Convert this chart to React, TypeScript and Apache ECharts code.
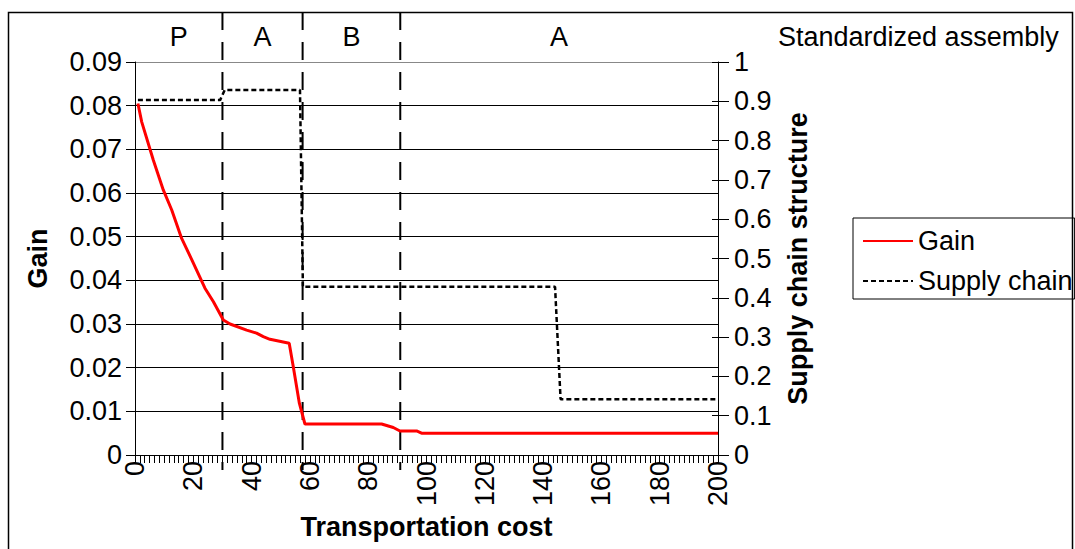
import React, { useEffect, useRef } from "react";
import * as echarts from "echarts";

const gainX = [1, 2.3, 6.3, 9.7, 12.6, 16, 19.5, 24, 26.9, 30.3, 32.6, 38.3, 41.7, 44, 46.3, 52.9, 54.3, 56.4, 58.3, 84.6, 88.6, 90.9, 96.6, 98.3, 200];
const gainY = [0.0805, 0.0763, 0.0675, 0.0607, 0.0561, 0.0496, 0.0447, 0.0382, 0.0351, 0.0309, 0.03, 0.0286, 0.0279, 0.0271, 0.0265, 0.0256, 0.0202, 0.0118, 0.0071, 0.0071, 0.0063, 0.0055, 0.0055, 0.005, 0.005];

const supplyX = [1, 29.2, 30.8, 56.6, 57.6, 144.1, 146, 200];
const supplyY = [0.903, 0.903, 0.929, 0.929, 0.428, 0.428, 0.142, 0.142];

const regionBounds = [0, 30, 57.5, 91, 200];
const regionLabels = ["P", "A", "B", "A"];

const FONT = "Liberation Sans";
const FS = 27;

export default function App() {
  const ref = useRef<HTMLDivElement>(null);
  useEffect(() => {
    if (!ref.current) return;
    const chart = echarts.init(ref.current, null, { renderer: "svg" });
    const regions = regionLabels.map((lab, i) => [regionBounds[i], regionBounds[i + 1], i]);
    const option: any = {
      animation: false,
      backgroundColor: "#fff",
      textStyle: { fontFamily: FONT, color: "#000" },
      grid: { left: 135, right: 357, top: 62, bottom: 94, containLabel: false },
      legend: {
        data: ["Gain", "Supply chain"],
        orient: "vertical",
        left: 853,
        top: 218,
        itemWidth: 50,
        itemHeight: 14,
        itemGap: 10,
        padding: [8, 2, 3, 9],
        borderColor: "#000",
        borderWidth: 1,
        borderRadius: 0,
        itemStyle: { opacity: 0 },
        textStyle: { fontFamily: FONT, fontSize: FS, lineHeight: 30, color: "#000" },
      },
      graphic: [
        {
          type: "rect",
          shape: { x: 8.5, y: 12.5, width: 1064, height: 600 },
          style: { fill: "none", stroke: "#000", lineWidth: 1.5 },
          silent: true,
        },
        {
          type: "text",
          x: 778,
          y: 37,
          style: { text: "Standardized assembly", fontFamily: FONT, fontSize: FS, fill: "#000", verticalAlign: "middle", align: "left" },
        },
      ],
      xAxis: {
        type: "value",
        min: 0,
        max: 200,
        interval: 20,
        name: "Transportation cost",
        nameLocation: "middle",
        nameGap: 55,
        nameTextStyle: { fontFamily: FONT, fontSize: FS, fontWeight: "bold", color: "#000" },
        axisLine: { show: true, lineStyle: { color: "#000", width: 1 } },
        axisTick: { show: true, length: 8, lineStyle: { color: "#000" } },
        minorTick: { show: true, splitNumber: 12, length: 8, lineStyle: { color: "#000" } },
        axisLabel: { rotate: 90, margin: 6, fontFamily: FONT, fontSize: FS, color: "#000" },
        splitLine: { show: false },
      },
      yAxis: [
        {
          type: "value",
          min: 0,
          max: 0.09,
          interval: 0.01,
          position: "left",
          name: "Gain",
          nameLocation: "middle",
          nameGap: 84,
          nameRotate: 90,
          nameTextStyle: { fontFamily: FONT, fontSize: FS, fontWeight: "bold", color: "#000", padding: [0, 0, 0, 0] },
          axisLine: { show: true, lineStyle: { color: "#000", width: 1 } },
          axisTick: { show: true, length: 9, lineStyle: { color: "#000" } },
          axisLabel: { margin: 13, fontFamily: FONT, fontSize: FS, color: "#000" },
          splitLine: {
            show: true,
            lineStyle: { color: ["#000", "#000", "#000", "#000", "#000", "#000", "#000", "#000", "#000", "#888"], width: 1 },
          },
        },
        {
          type: "value",
          min: 0,
          max: 1,
          interval: 0.1,
          position: "right",
          name: "Supply chain structure",
          nameLocation: "middle",
          nameGap: 66,
          nameRotate: 90,
          nameTextStyle: { fontFamily: FONT, fontSize: FS, fontWeight: "bold", color: "#000" },
          axisLine: { show: true, lineStyle: { color: "#000", width: 1 } },
          axisTick: { show: true, length: 11, lineStyle: { color: "#000" } },
          axisLabel: { margin: 16, fontFamily: FONT, fontSize: FS, color: "#000" },
          splitLine: { show: false },
        },
        {
          type: "value",
          min: 0,
          max: 1,
          interval: 0.1,
          position: "right",
          axisLine: { show: false },
          axisTick: { show: true, inside: true, length: 6, lineStyle: { color: "#000" } },
          axisLabel: { show: false },
          splitLine: { show: false },
        },
      ],
      series: [
        {
          name: "Gain",
          type: "line",
          data: gainX.map((x, i) => [x, gainY[i]]),
          yAxisIndex: 0,
          symbol: "none",
          lineStyle: { color: "#ff0000", width: 3 },
          itemStyle: { color: "#ff0000" },
          z: 5,
        },
        {
          name: "Supply chain",
          type: "line",
          data: supplyX.map((x, i) => [x, supplyY[i]]),
          yAxisIndex: 1,
          symbol: "none",
          lineStyle: { color: "#000", width: 2.5, type: [5, 3] },
          itemStyle: { color: "#000" },
          z: 4,
        },
        {
          name: "regions",
          type: "custom",
          yAxisIndex: 0,
          clip: false,
          silent: true,
          data: regions,
          encode: { x: [0, 1] },
          renderItem: (params: any, api: any) => {
            const lo = api.value(0);
            const hi = api.value(1);
            const idx = api.value(2);
            const cs = params.coordSys;
            const x1 = api.coord([lo, 0])[0];
            const x2 = api.coord([hi, 0])[0];
            const children: any[] = [
              {
                type: "text",
                style: {
                  text: regionLabels[idx],
                  x: (x1 + x2) / 2,
                  y: cs.y - 25,
                  align: "center",
                  verticalAlign: "middle",
                  fontFamily: FONT,
                  fontSize: FS,
                  fill: "#000",
                },
              },
            ];
            if (idx > 0) {
              children.push({
                type: "line",
                shape: { x1: x1, y1: cs.y - 50, x2: x1, y2: cs.y + cs.height + 15 },
                style: { stroke: "#000", lineWidth: 2, lineDash: [18, 12] },
              });
            }
            return { type: "group", children };
          },
          z: 3,
        },
      ],
    };
    chart.setOption(option);
    return () => chart.dispose();
  }, []);
  return <div ref={ref} style={{ width: 1075, height: 549, position: "absolute", left: 0, top: 0 }} />;
}
